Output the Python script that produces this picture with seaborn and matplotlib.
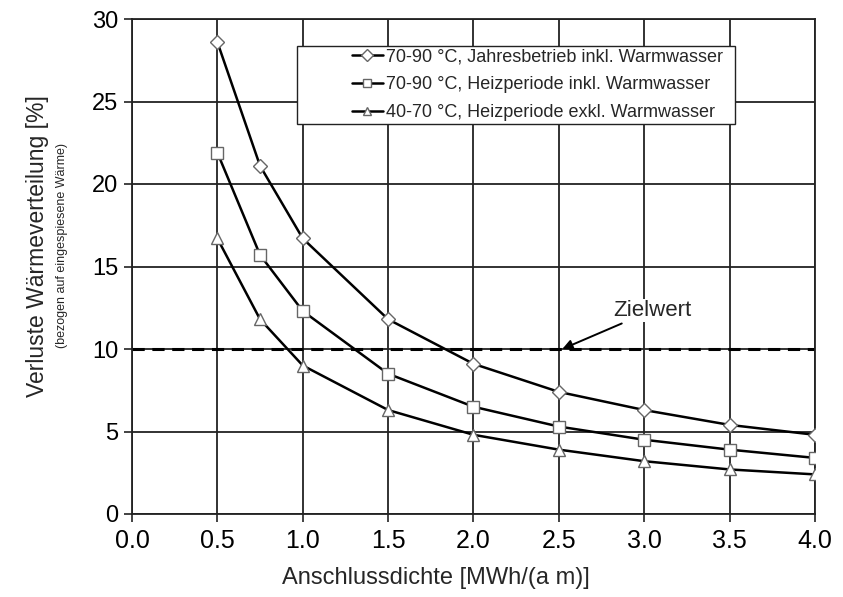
import matplotlib
matplotlib.use("Agg")
import matplotlib.pyplot as plt
import matplotlib.patches as mpatches
import seaborn as sns
import pandas as pd
import numpy as np

x_vals = [0.5, 0.75, 1.0, 1.5, 2.0, 2.5, 3.0, 3.5, 4.0]
jahres = [28.6, 21.1, 16.7, 11.8, 9.1, 7.4, 6.3, 5.4, 4.8]
heiz_inkl = [21.9, 15.7, 12.3, 8.5, 6.5, 5.3, 4.5, 3.9, 3.4]
heiz_exkl = [16.7, 11.8, 9.0, 6.3, 4.8, 3.9, 3.2, 2.7, 2.4]
labels = ["70-90 °C, Jahresbetrieb inkl. Warmwasser",
          "70-90 °C, Heizperiode inkl. Warmwasser",
          "40-70 °C, Heizperiode exkl. Warmwasser"]
zielwert = 10
x_ticks = [0.0, 0.5, 1.0, 1.5, 2.0, 2.5, 3.0, 3.5, 4.0]
y_ticks = [0, 5, 10, 15, 20, 25, 30]

sns.set_theme(style="white")
plt.rcParams['font.family'] = ['Liberation Sans', 'DejaVu Sans']

W, H = 843, 597
fig = plt.figure(figsize=(W/100, H/100), dpi=100)
ax = fig.add_axes([132/W, 1-514/H, 683/W, 495/H])

df = pd.DataFrame({
    "x": x_vals * 3,
    "y": jahres + heiz_inkl + heiz_exkl,
    "s": [labels[0]] * 9 + [labels[1]] * 9 + [labels[2]] * 9,
})

msizes = [7, 9, 9]
for lab, m, ms in zip(labels, ["D", "s", "^"], msizes):
    sub = df[df.s == lab]
    sns.lineplot(data=sub, x="x", y="y", ax=ax, color="black", lw=1.8,
                 marker=m, markersize=ms, markerfacecolor="white",
                 markeredgecolor="#666666", markeredgewidth=1.0,
                 label=lab, zorder=3)

ax.axhline(zielwert, color="black", lw=2.2, ls=(0, (4, 2.5)), zorder=2)
ax.annotate("Zielwert", xy=(2.52, zielwert), xytext=(2.82, 12.35),
            fontsize=16, ha="left", va="center",
            bbox=dict(boxstyle="square,pad=0.05", fc="white", ec="none"),
            arrowprops=dict(arrowstyle="-|>", color="black", lw=1.4,
                            mutation_scale=15, shrinkA=3, shrinkB=0))

ax.set_xlim(0, 4.0)
ax.set_ylim(0, 30)
ax.set_xticks(x_ticks)
ax.set_xticklabels([f"{t:.1f}" for t in x_ticks])
ax.set_yticks(y_ticks)
ax.grid(True, color="#222222", lw=1.3)
for sp in ax.spines.values():
    sp.set_color("#222222")
    sp.set_linewidth(1.3)
ax.tick_params(axis="both", direction="out", length=6, width=1.2,
               colors="#222222", labelcolor="black",
               bottom=True, left=True, pad=4)
ax.tick_params(axis="x", labelsize=18, pad=5)
ax.tick_params(axis="y", labelsize=17)

ax.set_xlabel("")
ax.set_ylabel("")
fig.text(436/W, 1-578/H, "Anschlussdichte [MWh/(a m)]", fontsize=17,
         ha="center", va="center")
fig.text(38/W, 1-246/H, "Verluste Wärmeverteilung [%]", rotation=90,
         fontsize=16.5, ha="center", va="center")
fig.text(62/W, 1-246/H, "(bezogen auf eingespiesene Wärme)", rotation=90,
         fontsize=9, ha="center", va="center")

# legend frame (wide, with large left margin as in the original)
box = mpatches.Rectangle((297/W, 1-124/H), (735-297)/W, (124-46)/H,
                         transform=fig.transFigure, fc="white", ec="#222222",
                         lw=1.0, zorder=5)
ax.add_patch(box)
box.set_clip_on(False)

leg = ax.legend(loc="upper left", bbox_to_anchor=(352/W, 1-48/H),
                bbox_transform=fig.transFigure,
                frameon=False, fontsize=13, handlelength=1.7,
                handletextpad=0.2, borderpad=0, labelspacing=0.62,
                borderaxespad=0)
leg.set_zorder(6)
for h in leg.legend_handles:
    h.set_markersize(6)

fig.savefig("out.png", dpi=100, facecolor="white")
